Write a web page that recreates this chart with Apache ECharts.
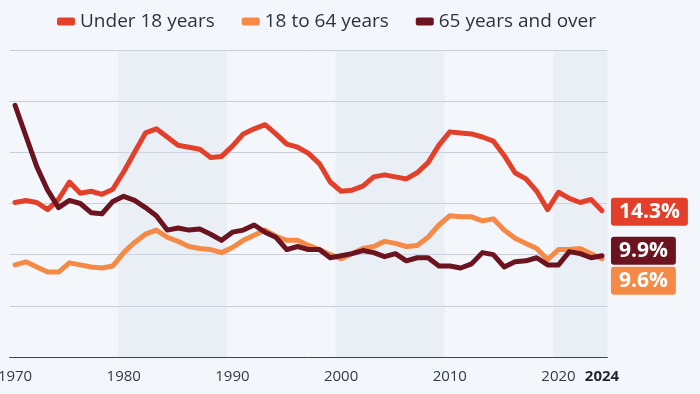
<!DOCTYPE html>
<html>
<head>
<meta charset="utf-8">
<script src="https://cdn.jsdelivr.net/npm/echarts@6/dist/echarts.min.js"></script>
<style>
html,body{margin:0;padding:0;background:#f3f6fa;}
#c{width:700px;height:394px;}
</style>
</head>
<body>
<div id="c"></div>
<script>
var years = [];
for (var y = 1970; y <= 2024; y++) years.push(y);

var under18 = [15.1,15.3,15.1,14.4,15.4,17.1,16.0,16.2,15.9,16.4,
               18.1,20.0,21.9,22.3,21.5,20.7,20.5,20.3,19.5,19.6,
               20.6,21.8,22.3,22.7,21.8,20.8,20.5,19.9,18.9,17.1,
               16.2,16.3,16.7,17.6,17.8,17.6,17.4,18.0,19.0,20.7,
               22.0,21.9,21.8,21.5,21.1,19.7,18.0,17.4,16.2,14.4,
               16.1,15.5,15.1,15.4,14.3];
var age18to64 = [9.0,9.3,8.8,8.3,8.3,9.2,9.0,8.8,8.7,8.9,
                 10.2,11.2,12.0,12.4,11.7,11.3,10.8,10.6,10.5,10.2,
                 10.7,11.4,11.9,12.4,11.8,11.4,11.4,10.9,10.5,10.0,
                 9.6,10.1,10.6,10.8,11.3,11.1,10.8,10.9,11.7,12.9,
                 13.8,13.7,13.7,13.3,13.5,12.4,11.6,11.1,10.6,9.5,
                 10.5,10.5,10.6,10.1,9.6];
var age65plus = [24.6,21.6,18.6,16.3,14.6,15.3,15.0,14.1,14.0,15.2,
                 15.7,15.3,14.6,13.8,12.4,12.6,12.4,12.5,12.0,11.4,
                 12.2,12.4,12.9,12.2,11.7,10.5,10.8,10.5,10.5,9.7,
                 9.9,10.1,10.4,10.2,9.8,10.1,9.4,9.7,9.7,8.9,
                 8.9,8.7,9.1,10.2,10.0,8.8,9.3,9.4,9.7,9.0,
                 9.0,10.3,10.1,9.7,9.9];
var seriesNames = ['Under 18 years', '18 to 64 years', '65 years and over'];
var xTickLabels = [1970, 1980, 1990, 2000, 2010, 2020, 2024];
var bands = [[1979.5, 1989.5], [1999.5, 2009.5], [2019.5, 2024.5]];

var colors = ['#e2402a', '#f58a47', '#6b1420'];

function pairs(arr) { return arr.map(function (v, i) { return [years[i], v]; }); }

var chart = echarts.init(document.getElementById('c'));
var FONT = '"Open Sans", "Noto Sans", sans-serif';

function mkSeries(name, data, color, offset, withBands) {
  var s = {
    name: name,
    type: 'line',
    data: pairs(data),
    showSymbol: false,
    symbol: 'none',
    lineStyle: { width: 5, color: color, cap: 'round', join: 'round' },
    itemStyle: { color: color },
    emphasis: { disabled: true },
    endLabel: {
      show: true,
      formatter: function (p) { return p.value[1].toFixed(1) + '%'; },
      color: '#fff',
      fontFamily: FONT,
      fontWeight: 'bold',
      fontSize: 21,
      lineHeight: 20,
      backgroundColor: color,
      borderRadius: 3,
      padding: [4, 8, 4, 8],
      distance: 9,
      offset: offset
    }
  };
  if (withBands) {
    s.markArea = {
      silent: true,
      itemStyle: { color: 'rgba(214,223,238,0.32)' },
      data: bands.map(function (b) { return [{ xAxis: b[0] }, { xAxis: b[1] }]; })
    };
  }
  return s;
}

chart.setOption({
  backgroundColor: '#f3f6fa',
  animation: false,
  color: colors,
  legend: {
    left: 52,
    top: 7,
    itemWidth: 18,
    itemHeight: 8,
    itemGap: 27,
    icon: 'roundRect',
    textStyle: { fontFamily: FONT, fontSize: 19, color: '#2b3340' },
    data: seriesNames
  },
  grid: { left: 9.6, right: 92.6, top: 50, bottom: 37, containLabel: false, outerBoundsMode: 'none' },
  xAxis: {
    type: 'value',
    min: 1969.5,
    max: 2024.5,
    splitLine: { show: false },
    axisTick: { show: false },
    axisLine: { show: true, lineStyle: { color: '#3c4450', width: 1 } },
    axisLabel: {
      customValues: xTickLabels,
      margin: 12,
      fontFamily: FONT,
      fontSize: 15,
      color: '#333a45',
      hideOverlap: false,
      formatter: function (v) { return v === 2024 ? '{b|' + v + '}' : String(v); },
      rich: { b: { fontFamily: FONT, fontSize: 15, fontWeight: 'bold', color: '#1f2630' } }
    }
  },
  yAxis: {
    type: 'value',
    min: 0,
    max: 30,
    interval: 5,
    axisLine: { show: false },
    axisTick: { show: false },
    axisLabel: { show: false },
    splitLine: { show: true, lineStyle: { color: '#c8cdd6', width: 1 } }
  },
  series: [
    mkSeries(seriesNames[0], under18, colors[0], [0, 1], true),
    mkSeries(seriesNames[1], age18to64, colors[1], [0, 22], false),
    mkSeries(seriesNames[2], age65plus, colors[2], [0, -5], false)
  ]
});
</script>
</body>
</html>
